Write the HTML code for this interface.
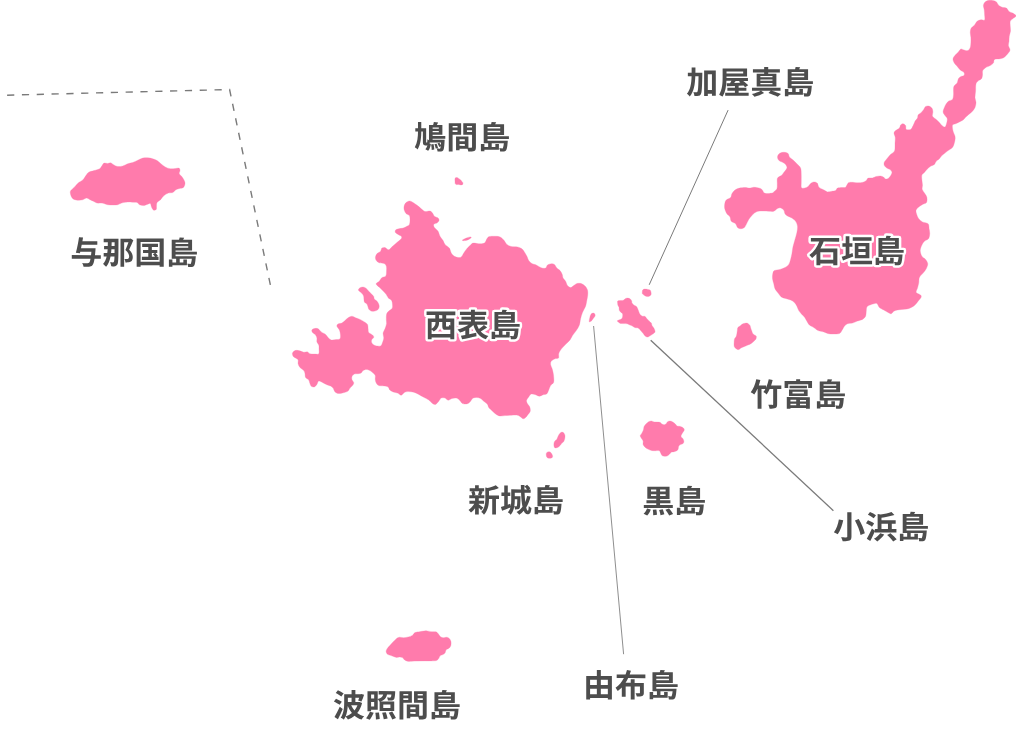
<!DOCTYPE html>
<html lang="ja">
<head>
<meta charset="utf-8">
<title>八重山諸島マップ</title>
<style>
html,body{margin:0;padding:0;background:#fff;}
body{width:1016px;height:730px;overflow:hidden;position:relative;font-family:"Liberation Sans","Noto Sans CJK JP",sans-serif;}
main,figure{display:block;margin:0;padding:0;}
.map{position:relative;width:1016px;height:730px;overflow:hidden;background:#fff;}
svg{position:absolute;left:0;top:0;display:block;will-change:transform;}
.island{fill:#ff7bac;stroke:#ff7bac;stroke-width:0.3;stroke-linejoin:round;}
.lead{stroke:#7a7a7a;fill:none;}
.border{stroke:#7a7a7a;stroke-width:1.4;fill:none;stroke-dasharray:7.2 7.62;}
.label{font-family:"Liberation Sans","Noto Sans CJK JP",sans-serif;font-size:32px;font-weight:700;fill:#4d4d4d;}
.label.halo{stroke:#fff;stroke-width:4.9;stroke-linejoin:round;paint-order:stroke fill;}
</style>
</head>
<body>
<main>
<figure class="map">
<svg width="1016" height="730" viewBox="0 0 1016 730">
<g class="islands">
<path class="island" id="iriomote" d="M386.3 319.8C386.33 318.13 386.18 315.28 386.7 313.75C387.22 312.22 388.5 311.49 389.4 310.6C390.3 309.71 391.58 309.35 392.1 308.4C392.62 307.45 392.58 306.23 392.5 304.9C392.42 303.57 392.27 301.52 391.6 300.4C390.93 299.28 389.38 299.17 388.5 298.2C387.62 297.23 387.12 295.72 386.3 294.6C385.48 293.48 384.72 292.68 383.6 291.5C382.48 290.32 380.85 288.77 379.6 287.5C378.35 286.23 376.17 284.93 376.1 283.9C376.03 282.87 378.25 282.33 379.2 281.3C380.15 280.27 380.7 278.6 381.8 277.7C382.9 276.8 385.02 277.02 385.8 275.9C386.58 274.78 386.42 272.63 386.5 271C386.58 269.37 386.7 267.35 386.3 266.1C385.9 264.85 385.28 264.05 384.1 263.5C382.92 262.95 380.47 263.25 379.2 262.8C377.93 262.35 377.13 261.65 376.5 260.8C375.87 259.95 375.33 258.88 375.4 257.7C375.47 256.52 376.03 254.82 376.9 253.75C377.77 252.68 379.77 252.19 380.6 251.25C381.43 250.31 381.17 248.72 381.9 248.1C382.63 247.47 383.86 247.22 385 247.5C386.14 247.78 387.5 249.96 388.75 249.75C390 249.54 391.14 247.46 392.5 246.25C393.86 245.04 395.44 243.75 396.9 242.5C398.36 241.25 400.52 239.79 401.25 238.75C401.98 237.71 401.77 236.97 401.25 236.25C400.73 235.53 399.08 235.03 398.1 234.4C397.12 233.78 395.82 233.23 395.4 232.5C394.98 231.77 395.04 230.62 395.6 230C396.16 229.38 397.5 229.07 398.75 228.75C400 228.43 401.74 228.52 403.1 228.1C404.46 227.68 405.85 226.87 406.9 226.25C407.95 225.63 408.88 225.44 409.4 224.4C409.92 223.36 410 221.47 410 220C410 218.53 410.02 216.64 409.4 215.6C408.77 214.56 407.08 214.58 406.25 213.75C405.42 212.92 404.77 211.74 404.4 210.6C404.02 209.46 403.8 208.15 404 206.9C404.2 205.65 404.7 204.08 405.6 203.1C406.5 202.12 408.15 201.1 409.4 201C410.65 200.9 411.75 201.73 413.1 202.5C414.45 203.27 416.14 204.56 417.5 205.6C418.86 206.64 420 207.77 421.25 208.75C422.5 209.73 423.54 211.12 425 211.5C426.46 211.88 428.75 210.73 430 211C431.25 211.27 431.77 212.22 432.5 213.1C433.23 213.97 433.47 215.42 434.4 216.25C435.33 217.08 437.33 217.38 438.1 218.1C438.87 218.82 439.2 219.77 439 220.6C438.8 221.43 437.77 222.47 436.9 223.1C436.02 223.73 434.17 223.67 433.75 224.4C433.33 225.13 433.67 226.36 434.4 227.5C435.12 228.64 437.17 229.79 438.1 231.25C439.03 232.71 439.17 234.69 440 236.25C440.83 237.81 442.27 239.24 443.1 240.6C443.93 241.96 443.95 243.15 445 244.4C446.05 245.65 448.36 246.65 449.4 248.1C450.44 249.55 450.42 251.74 451.25 253.1C452.08 254.46 453.26 255.52 454.4 256.25C455.54 256.98 456.96 257.39 458.1 257.5C459.24 257.61 460.31 257.63 461.25 256.9C462.19 256.17 462.92 254.35 463.75 253.1C464.58 251.85 465.21 250.65 466.25 249.4C467.29 248.15 468.86 246.65 470 245.6C471.14 244.55 471.64 243.41 473.1 243.1C474.56 242.79 476.87 243.75 478.75 243.75C480.63 243.75 483.04 243.93 484.4 243.1C485.76 242.27 486.07 239.83 486.9 238.75C487.73 237.67 488.05 237.02 489.4 236.6C490.75 236.18 493.23 236.2 495 236.25C496.77 236.3 498.54 236.28 500 236.9C501.46 237.53 502.6 238.75 503.75 240C504.9 241.25 505.65 243.32 506.9 244.4C508.15 245.48 509.48 246.08 511.25 246.5C513.02 246.92 515.73 246.53 517.5 246.9C519.27 247.28 520.75 247.92 521.9 248.75C523.05 249.58 523.57 250.65 524.4 251.9C525.23 253.15 526.17 254.8 526.9 256.25C527.62 257.7 527.92 259.39 528.75 260.6C529.58 261.81 530.65 262.77 531.9 263.5C533.15 264.23 534.69 264.29 536.25 265C537.81 265.71 539.69 267.23 541.25 267.75C542.81 268.27 544.56 268.56 545.6 268.1C546.64 267.64 546.56 265.73 547.5 265C548.44 264.27 550.1 263.85 551.25 263.75C552.4 263.65 553.46 263.67 554.4 264.4C555.34 265.12 555.97 267.07 556.9 268.1C557.83 269.13 559.11 269.55 560 270.6C560.89 271.65 561.73 273.15 562.25 274.4C562.77 275.65 562.54 276.96 563.1 278.1C563.66 279.24 564.87 280 565.6 281.25C566.33 282.5 566.67 284.56 567.5 285.6C568.33 286.64 569.56 287.5 570.6 287.5C571.64 287.5 572.7 286.27 573.75 285.6C574.8 284.93 575.65 283.85 576.9 283.5C578.15 283.15 579.9 283.08 581.25 283.5C582.6 283.92 583.96 284.92 585 286C586.04 287.08 587.04 288.5 587.5 290C587.96 291.5 587.85 293.33 587.75 295C587.65 296.67 587.26 298.12 586.9 300C586.54 301.88 586.33 304.17 585.6 306.25C584.87 308.33 583.33 310.42 582.5 312.5C581.67 314.58 581.12 316.67 580.6 318.75C580.08 320.83 580.12 323.02 579.4 325C578.67 326.98 577.4 328.83 576.25 330.6C575.1 332.37 573.54 334.03 572.5 335.6C571.46 337.17 571.25 338.43 570 340C568.75 341.57 566.57 343.33 565 345C563.43 346.67 561.64 348.54 560.6 350C559.56 351.46 559.1 352.4 558.75 353.75C558.4 355.1 559.12 357.27 558.5 358.1C557.88 358.93 556.21 358.23 555 358.75C553.79 359.27 551.98 360.31 551.25 361.25C550.52 362.19 550.49 363.26 550.6 364.4C550.71 365.54 551.48 366.75 551.9 368.1C552.32 369.45 552.79 370.93 553.1 372.5C553.41 374.07 553.67 375.83 553.75 377.5C553.83 379.17 554.12 381.15 553.6 382.5C553.08 383.85 551.41 384.35 550.6 385.6C549.79 386.85 549.37 388.64 548.75 390C548.13 391.36 547.84 392.96 546.9 393.75C545.96 394.54 544.35 394.33 543.1 394.75C541.85 395.17 540.65 396.25 539.4 396.25C538.15 396.25 536.96 395.11 535.6 394.75C534.24 394.39 532.39 393.74 531.25 394.1C530.11 394.46 529.54 395.82 528.75 396.9C527.96 397.98 526.71 399.46 526.5 400.6C526.29 401.74 526.96 402.7 527.5 403.75C528.04 404.8 529.29 405.65 529.75 406.9C530.21 408.15 530.52 410 530.25 411.25C529.98 412.5 528.88 413.36 528.1 414.4C527.33 415.44 526.43 416.77 525.6 417.5C524.77 418.23 523.93 418.85 523.1 418.75C522.27 418.65 521.53 417.48 520.6 416.9C519.67 416.32 519.06 415.52 517.5 415.25C515.94 414.98 513.33 415.19 511.25 415.25C509.17 415.31 506.88 415.48 505 415.6C503.12 415.73 501.46 416.2 500 416C498.54 415.8 497.5 415.19 496.25 414.4C495 413.61 493.75 412.4 492.5 411.25C491.25 410.1 489.58 408.64 488.75 407.5C487.92 406.36 488.33 405.44 487.5 404.4C486.67 403.36 484.9 402.23 483.75 401.25C482.6 400.27 481.74 399.12 480.6 398.5C479.46 397.88 478.15 397.57 476.9 397.5C475.65 397.43 474.15 397.48 473.1 398.1C472.05 398.73 471.43 400.35 470.6 401.25C469.77 402.15 469.13 403.04 468.1 403.5C467.07 403.96 465.43 404.07 464.4 404C463.37 403.93 462.73 403.77 461.9 403.1C461.07 402.43 460.34 400.83 459.4 400C458.46 399.17 457.5 398.35 456.25 398.1C455 397.85 453.26 398.14 451.9 398.5C450.54 398.86 449.25 400.32 448.1 400.25C446.95 400.18 446.14 398.46 445 398.1C443.86 397.74 442.29 397.58 441.25 398.1C440.21 398.62 439.69 400.2 438.75 401.25C437.81 402.3 436.64 404.02 435.6 404.4C434.56 404.77 433.64 404.23 432.5 403.5C431.36 402.77 430.21 401.04 428.75 400C427.29 398.96 425.42 398.18 423.75 397.25C422.08 396.32 420.42 395.23 418.75 394.4C417.08 393.57 415.52 392.72 413.75 392.25C411.98 391.78 409.66 391.56 408.1 391.6C406.54 391.64 405.54 391.89 404.4 392.5C403.26 393.11 402.4 395.15 401.25 395.25C400.1 395.35 398.86 393.66 397.5 393.1C396.14 392.54 394.39 392.42 393.1 391.9C391.81 391.38 390.58 390.83 389.75 390C388.92 389.17 389.1 387.58 388.1 386.9C387.1 386.22 385.31 386.12 383.75 385.9C382.19 385.68 380 386.07 378.75 385.6C377.5 385.13 376.83 384.13 376.25 383.1C375.67 382.07 375.42 380.65 375.25 379.4C375.08 378.15 375.61 376.65 375.25 375.6C374.89 374.55 373.98 373.93 373.1 373.1C372.23 372.27 371.14 371.22 370 370.6C368.86 369.98 367.4 369.4 366.25 369.4C365.1 369.4 363.93 370.02 363.1 370.6C362.27 371.18 362.08 372.38 361.25 372.9C360.42 373.42 359.24 373.57 358.1 373.75C356.96 373.93 355.4 373.58 354.4 374C353.4 374.42 352.52 375.35 352.1 376.25C351.68 377.15 351.62 378.32 351.9 379.4C352.17 380.48 353.65 381.72 353.75 382.75C353.85 383.78 353.12 384.71 352.5 385.6C351.88 386.49 350.73 387.2 350 388.1C349.27 389 349.03 390.27 348.1 391C347.17 391.73 345.96 392.08 344.4 392.5C342.84 392.92 340.32 393.6 338.75 393.5C337.18 393.4 335.94 392.8 335 391.9C334.06 391 333.83 389.08 333.1 388.1C332.37 387.12 331.63 386.56 330.6 386C329.57 385.44 328.25 385.33 326.9 384.75C325.55 384.17 323.86 383.12 322.5 382.5C321.14 381.88 319.68 380.68 318.75 381C317.82 381.32 317.62 383.42 316.9 384.4C316.17 385.38 315.34 386.59 314.4 386.9C313.46 387.21 312.02 386.88 311.25 386.25C310.48 385.62 310.17 384.14 309.75 383.1C309.33 382.06 309.44 380.93 308.75 380C308.06 379.07 306.23 378.54 305.6 377.5C304.98 376.46 305.31 374.9 305 373.75C304.69 372.6 304.58 371.64 303.75 370.6C302.92 369.56 300.94 368.64 300 367.5C299.06 366.36 298.42 365 298.1 363.75C297.78 362.5 298.52 360.94 298.1 360C297.68 359.06 296.43 358.73 295.6 358.1C294.77 357.48 293.62 357.08 293.1 356.25C292.58 355.42 292.18 354.04 292.5 353.1C292.82 352.16 293.96 351.02 295 350.6C296.04 350.18 297.29 350.33 298.75 350.6C300.21 350.88 302.29 352.03 303.75 352.25C305.21 352.47 306.46 351.65 307.5 351.9C308.54 352.15 308.75 353.38 310 353.75C311.25 354.12 313.54 354.1 315 354.1C316.46 354.1 318.08 354.64 318.75 353.75C319.42 352.86 319 350.21 319 348.75C319 347.29 319.1 346.14 318.75 345C318.4 343.86 317.21 343.05 316.9 341.9C316.59 340.75 317.12 339.25 316.9 338.1C316.68 336.95 316.33 335.93 315.6 335C314.87 334.07 313.12 333.33 312.5 332.5C311.88 331.67 311.58 330.67 311.9 330C312.22 329.33 313.37 328.71 314.4 328.5C315.43 328.29 316.96 328.18 318.1 328.75C319.24 329.32 320 330.96 321.25 331.9C322.5 332.84 324.46 333.47 325.6 334.4C326.74 335.33 327.16 336.57 328.1 337.5C329.04 338.43 329.89 339.65 331.25 340C332.61 340.35 334.79 339.81 336.25 339.6C337.71 339.39 339.31 339.62 340 338.75C340.69 337.88 340.5 335.86 340.4 334.4C340.3 332.94 339.98 331.36 339.4 330C338.82 328.64 337.12 327.25 336.9 326.25C336.68 325.25 337.27 324.52 338.1 324C338.93 323.48 340.75 323.67 341.9 323.1C343.05 322.53 343.97 321.49 345 320.6C346.03 319.71 346.95 318.48 348.1 317.75C349.25 317.02 350.65 316.25 351.9 316.25C353.15 316.25 354.25 317.23 355.6 317.75C356.95 318.27 358.53 318.71 360 319.4C361.47 320.09 363.15 321.07 364.4 321.9C365.65 322.73 366.88 323.26 367.5 324.4C368.12 325.54 367.89 327.4 368.1 328.75C368.31 330.1 368.02 331.46 368.75 332.5C369.48 333.54 371.67 334.21 372.5 335C373.33 335.79 373.9 336.42 373.75 337.25C373.6 338.08 371.91 339.02 371.6 340C371.29 340.98 371.33 342.17 371.9 343.1C372.47 344.03 373.55 345.13 375 345.6C376.45 346.07 379.35 346.42 380.6 345.9C381.85 345.38 381.98 343.8 382.5 342.5C383.02 341.2 383.65 339.67 383.75 338.1C383.85 336.53 382.89 334.66 383.1 333.1C383.31 331.54 384.43 330.31 385 328.75C385.57 327.19 386.28 325.24 386.5 323.75C386.72 322.26 386.27 321.47 386.3 319.8Z"/>
<path class="island" id="iriomote_islet_w" d="M358.4 289.7C358.47 289.08 359.22 288.25 360 287.8C360.78 287.35 362.05 286.9 363.1 287C364.15 287.1 365.4 287.72 366.3 288.4C367.2 289.08 367.68 290.22 368.5 291.1C369.32 291.98 370.33 292.82 371.2 293.7C372.07 294.58 373.18 295.5 373.7 296.4C374.22 297.3 373.77 298.32 374.3 299.1C374.83 299.88 376.17 300.28 376.9 301.1C377.63 301.92 378.32 303 378.7 304C379.08 305 379.35 306.14 379.2 307.1C379.05 308.06 378.55 309.08 377.8 309.75C377.05 310.42 375.8 310.88 374.7 311.1C373.6 311.33 372.17 311.4 371.2 311.1C370.23 310.8 369.47 310.12 368.9 309.3C368.33 308.48 368.17 307.12 367.8 306.2C367.43 305.28 367.25 304.47 366.7 303.8C366.15 303.13 364.97 302.98 364.5 302.2C364.03 301.42 364.05 300.13 363.9 299.1C363.75 298.07 363.95 296.97 363.6 296C363.25 295.03 362.47 294.05 361.8 293.3C361.13 292.55 360.17 292.1 359.6 291.5C359.03 290.9 358.33 290.32 358.4 289.7Z"/>
<path class="island" id="iriomote_islet_n" d="M462.25 240.25C462.46 239.83 464.96 238.66 466.25 238.1C467.54 237.54 469.17 237 470 236.9C470.83 236.8 471.46 237.08 471.25 237.5C471.04 237.92 469.79 238.88 468.75 239.4C467.71 239.92 466.08 240.46 465 240.6C463.92 240.74 462.04 240.67 462.25 240.25Z"/>
<path class="island" id="ishigaki" d="M773.75 191.9C774.58 191.18 776.32 190.11 776.9 188.75C777.48 187.39 777.15 185.53 777.25 183.75C777.35 181.97 776.83 179.46 777.5 178.1C778.17 176.74 780.21 176.53 781.25 175.6C782.29 174.67 782.81 173.75 783.75 172.5C784.69 171.25 786.59 169.45 786.9 168.1C787.21 166.75 786.33 165.38 785.6 164.4C784.87 163.43 783.6 162.88 782.5 162.25C781.4 161.62 779.83 161.49 779 160.6C778.17 159.71 777.43 158.08 777.5 156.9C777.57 155.72 778.36 154.28 779.4 153.5C780.44 152.72 782.3 152.25 783.75 152.25C785.2 152.25 787.16 152.72 788.1 153.5C789.04 154.28 788.57 155.82 789.4 156.9C790.23 157.98 791.85 158.86 793.1 160C794.35 161.14 795.65 162.4 796.9 163.75C798.15 165.1 799.88 166.22 800.6 168.1C801.33 169.97 801.14 172.6 801.25 175C801.36 177.4 801.21 180.38 801.25 182.5C801.29 184.62 800.88 186.85 801.5 187.75C802.12 188.65 803.9 188.11 805 187.9C806.1 187.69 807.17 187.23 808.1 186.5C809.03 185.77 809.66 184.27 810.6 183.5C811.54 182.73 812.64 181.97 813.75 181.9C814.86 181.83 816.42 182.27 817.25 183.1C818.08 183.93 817.98 185.92 818.75 186.9C819.52 187.88 820.86 188.38 821.9 189C822.94 189.62 824.07 190.12 825 190.6C825.93 191.08 826.35 191.79 827.5 191.9C828.65 192.01 830.55 191.47 831.9 191.25C833.25 191.03 834.67 191.12 835.6 190.6C836.53 190.07 836.45 188.62 837.5 188.1C838.55 187.58 840.55 187.64 841.9 187.5C843.25 187.36 844.57 187.98 845.6 187.25C846.63 186.52 847.16 183.93 848.1 183.1C849.04 182.27 849.68 182.31 851.25 182.25C852.82 182.19 855.52 182.75 857.5 182.75C859.48 182.75 861.64 182.61 863.1 182.25C864.56 181.89 865.42 181.29 866.25 180.6C867.08 179.91 867.06 178.55 868.1 178.1C869.14 177.65 871.14 178.17 872.5 177.9C873.86 177.63 874.9 176.82 876.25 176.5C877.6 176.18 879.35 175.88 880.6 176C881.85 176.12 882.92 176.75 883.75 177.25C884.58 177.75 884.77 178.86 885.6 179C886.43 179.14 887.7 179.08 888.75 178.1C889.8 177.12 891.59 174.45 891.9 173.1C892.21 171.75 891.43 170.83 890.6 170C889.77 169.17 887.93 168.83 886.9 168.1C885.87 167.37 884.85 166.53 884.4 165.6C883.95 164.67 883.78 163.64 884.2 162.5C884.62 161.36 885.93 160 886.9 158.75C887.87 157.5 888.75 156.25 890 155C891.25 153.75 893.57 152.71 894.4 151.25C895.23 149.79 894.9 147.5 895 146.25C895.1 145 894.96 145.21 895 143.75C895.04 142.29 895.42 139.28 895.25 137.5C895.08 135.72 893.94 134.25 894 133.1C894.06 131.95 894.7 131.43 895.6 130.6C896.5 129.77 898.57 129.03 899.4 128.1C900.23 127.17 899.98 125.72 900.6 125C901.22 124.28 902.27 123.65 903.1 123.75C903.93 123.85 905.08 124.66 905.6 125.6C906.12 126.54 905.42 128.77 906.25 129.4C907.08 130.03 909.46 130.03 910.6 129.4C911.74 128.77 912.37 126.96 913.1 125.6C913.83 124.24 914.27 122.5 915 121.25C915.73 120 916.98 119.14 917.5 118.1C918.02 117.06 917.48 115.93 918.1 115C918.73 114.07 920.31 113.43 921.25 112.5C922.19 111.57 923.02 110.4 923.75 109.4C924.48 108.4 924.77 107.07 925.6 106.5C926.43 105.93 927.7 105.73 928.75 106C929.8 106.27 931.21 107.12 931.9 108.1C932.59 109.08 932.8 110.54 932.9 111.9C933 113.26 931.94 115 932.5 116.25C933.06 117.5 935.1 118.36 936.25 119.4C937.4 120.44 938.36 121.4 939.4 122.5C940.44 123.6 941.57 125.27 942.5 126C943.43 126.73 944.33 127.28 945 126.9C945.67 126.53 946.12 125.11 946.5 123.75C946.88 122.39 947.5 120.11 947.25 118.75C947 117.39 945.69 116.74 945 115.6C944.31 114.46 943.2 113.25 943.1 111.9C943 110.55 943.88 108.86 944.4 107.5C944.92 106.14 945.52 104.83 946.25 103.75C946.98 102.67 947.71 101.72 948.75 101C949.79 100.28 951.71 100.4 952.5 99.4C953.29 98.4 953.33 96.57 953.5 95C953.67 93.43 953.42 91.46 953.5 90C953.58 88.54 953.4 87.4 954 86.25C954.6 85.1 956.37 84.35 957.1 83.1C957.83 81.85 957.77 79.85 958.4 78.75C959.03 77.65 959.97 77.03 960.9 76.5C961.83 75.97 963.48 76.27 964 75.6C964.52 74.93 964.62 73.43 964 72.5C963.38 71.57 961.4 71.04 960.25 70C959.1 68.96 958.14 67.5 957.1 66.25C956.06 65 954.68 63.75 954 62.5C953.32 61.25 952.79 60 953 58.75C953.21 57.5 954.35 56.14 955.25 55C956.15 53.86 957.46 52.9 958.4 51.9C959.34 50.9 959.97 49.32 960.9 49C961.83 48.68 962.86 49.73 964 50C965.14 50.27 966.71 51.02 967.75 50.6C968.79 50.18 969.73 48.85 970.25 47.5C970.77 46.15 970.79 44.17 970.9 42.5C971.01 40.83 971.01 39.17 970.9 37.5C970.79 35.83 970.19 34.07 970.25 32.5C970.31 30.93 970.52 29.35 971.25 28.1C971.98 26.85 973.62 26.14 974.6 25C975.58 23.86 976.05 22.12 977.1 21.25C978.15 20.38 979.65 19.96 980.9 19.75C982.15 19.54 983.98 20.79 984.6 20C985.22 19.21 984.66 16.67 984.6 15C984.54 13.33 984.45 11.57 984.25 10C984.05 8.43 983.34 6.85 983.4 5.6C983.46 4.35 983.88 3.33 984.6 2.5C985.33 1.67 986.39 0.95 987.75 0.6C989.11 0.25 991.29 0.18 992.75 0.4C994.21 0.62 995.56 1.13 996.5 1.9C997.44 2.67 997.47 4.11 998.4 5C999.33 5.89 1000.75 6.73 1002.1 7.25C1003.45 7.77 1005.35 7.39 1006.5 8.1C1007.65 8.81 1007.96 10.67 1009 11.5C1010.04 12.33 1011.67 12.52 1012.75 13.1C1013.83 13.68 1014.96 14.47 1015.5 15C1016.04 15.53 1016.46 15.62 1016 16.25C1015.54 16.88 1013.71 17.92 1012.75 18.75C1011.79 19.58 1010.67 20 1010.25 21.25C1009.83 22.5 1010.21 24.58 1010.25 26.25C1010.29 27.92 1010.67 29.58 1010.5 31.25C1010.33 32.92 1009.5 34.58 1009.25 36.25C1009 37.92 1009.14 39.69 1009 41.25C1008.86 42.81 1008.23 44.14 1008.4 45.6C1008.57 47.06 1010.11 48.64 1010 50C1009.89 51.36 1008.75 52.5 1007.75 53.75C1006.75 55 1005.25 56.67 1004 57.5C1002.75 58.33 1001.82 58.43 1000.25 58.75C998.68 59.07 995.74 58.67 994.6 59.4C993.46 60.12 994.12 62.07 993.4 63.1C992.67 64.13 991.5 64.87 990.25 65.6C989 66.33 987.15 66.67 985.9 67.5C984.65 68.33 983.32 69.35 982.75 70.6C982.18 71.85 982.71 73.64 982.5 75C982.29 76.36 982.29 77.71 981.5 78.75C980.71 79.79 978.68 80.31 977.75 81.25C976.82 82.19 976.26 82.73 975.9 84.4C975.54 86.07 975.75 89.07 975.6 91.25C975.45 93.43 974.93 95.62 975 97.5C975.07 99.38 976 100.83 976 102.5C976 104.17 975.58 106.04 975 107.5C974.42 108.96 973.54 110.1 972.5 111.25C971.46 112.4 969.9 113.4 968.75 114.4C967.6 115.4 966.54 116.32 965.6 117.25C964.66 118.18 964.13 119.22 963.1 120C962.07 120.78 960.65 121.28 959.4 121.9C958.15 122.53 956.75 123.19 955.6 123.75C954.45 124.31 952.92 124 952.5 125.25C952.08 126.5 952.68 129.42 953.1 131.25C953.52 133.08 954.68 134.79 955 136.25C955.32 137.71 955.21 138.54 955 140C954.79 141.46 954.27 143.65 953.75 145C953.23 146.35 952.84 147.17 951.9 148.1C950.96 149.03 949.25 149.77 948.1 150.6C946.95 151.43 946.03 152.27 945 153.1C943.97 153.93 942.83 154.66 941.9 155.6C940.97 156.54 940.34 157.81 939.4 158.75C938.46 159.69 937.08 160.31 936.25 161.25C935.42 162.19 935.34 163.57 934.4 164.4C933.46 165.23 931.85 165.42 930.6 166.25C929.35 167.08 927.93 168.36 926.9 169.4C925.87 170.44 925.23 171.57 924.4 172.5C923.57 173.43 922.32 173.75 921.9 175C921.48 176.25 921.8 178.33 921.9 180C922 181.67 922.44 183.43 922.5 185C922.56 186.57 921.83 187.94 922.25 189.4C922.67 190.86 924.23 192.4 925 193.75C925.77 195.1 926.65 196.04 926.9 197.5C927.15 198.96 927.23 201.35 926.5 202.5C925.77 203.65 923.9 203.57 922.5 204.4C921.1 205.23 919.18 206.47 918.1 207.5C917.02 208.53 916.2 209.35 916 210.6C915.8 211.85 916.44 213.64 916.9 215C917.36 216.36 917.82 217.6 918.75 218.75C919.68 219.9 920.94 221.07 922.5 221.9C924.06 222.73 927 222.61 928.1 223.75C929.2 224.89 928.83 227.08 929.1 228.75C929.38 230.42 929.85 232.08 929.75 233.75C929.65 235.42 929.39 237.5 928.5 238.75C927.61 240 925.5 240.21 924.4 241.25C923.3 242.29 922.59 243.44 921.9 245C921.21 246.56 920.25 248.72 920.25 250.6C920.25 252.47 921.01 254.78 921.9 256.25C922.79 257.72 924.62 258.15 925.6 259.4C926.58 260.65 927.64 262.19 927.75 263.75C927.86 265.31 927.02 267.19 926.25 268.75C925.48 270.31 924.24 271.64 923.1 273.1C921.96 274.56 920.12 275.83 919.4 277.5C918.67 279.17 919.07 281.33 918.75 283.1C918.43 284.87 917.92 286.53 917.5 288.1C917.08 289.67 915.73 291.35 916.25 292.5C916.77 293.65 919.81 294.17 920.6 295C921.39 295.83 921.42 296.46 921 297.5C920.58 298.54 919.1 300 918.1 301.25C917.1 302.5 916.14 303.96 915 305C913.86 306.04 912.6 306.83 911.25 307.5C909.9 308.17 908.46 308.68 906.9 309C905.34 309.32 903.47 309.23 901.9 309.4C900.33 309.57 898.86 309.69 897.5 310C896.14 310.31 894.79 310.62 893.75 311.25C892.71 311.88 892.19 313.54 891.25 313.75C890.31 313.96 889.35 313.12 888.1 312.5C886.85 311.88 885.2 310.83 883.75 310C882.3 309.17 880.54 308.58 879.4 307.5C878.26 306.42 877.84 304.12 876.9 303.5C875.96 302.88 874.9 303.5 873.75 303.75C872.6 304 871.14 304.48 870 305C868.86 305.52 867.52 305.86 866.9 306.9C866.27 307.94 866.47 309.69 866.25 311.25C866.03 312.81 866.23 314.89 865.6 316.25C864.98 317.61 863.85 318.61 862.5 319.4C861.15 320.19 859.17 320.38 857.5 321C855.83 321.62 854.17 322.64 852.5 323.1C850.83 323.56 848.85 323.23 847.5 323.75C846.15 324.27 845.33 325.11 844.4 326.25C843.47 327.39 842.73 329.39 841.9 330.6C841.07 331.81 840.76 332.93 839.4 333.5C838.04 334.07 835.52 333.96 833.75 334C831.98 334.04 830.42 334.1 828.75 333.75C827.08 333.4 825.52 332.42 823.75 331.9C821.98 331.38 819.77 331.33 818.1 330.6C816.43 329.87 815.2 328.43 813.75 327.5C812.3 326.57 810.54 326.04 809.4 325C808.26 323.96 807.67 322.5 806.9 321.25C806.12 320 805.69 318.75 804.75 317.5C803.81 316.25 802.25 314.9 801.25 313.75C800.25 312.6 799.48 311.85 798.75 310.6C798.02 309.35 797.62 307.6 796.9 306.25C796.17 304.9 795.45 303.54 794.4 302.5C793.35 301.46 792.07 300.67 790.6 300C789.13 299.33 787.16 299.02 785.6 298.5C784.04 297.98 782.5 297.8 781.25 296.9C780 296 779.14 294.46 778.1 293.1C777.06 291.74 775.73 290.31 775 288.75C774.27 287.19 774.17 285.42 773.75 283.75C773.33 282.08 772.67 280.42 772.5 278.75C772.33 277.08 772.43 275.11 772.75 273.75C773.07 272.39 773.19 271.33 774.4 270.6C775.61 269.88 778.23 269.92 780 269.4C781.77 268.88 783.54 268.33 785 267.5C786.46 266.67 787.82 265.75 788.75 264.4C789.68 263.05 790.08 261.17 790.6 259.4C791.12 257.62 791.48 255.94 791.9 253.75C792.32 251.56 792.58 248.64 793.1 246.25C793.62 243.86 794.37 241.69 795 239.4C795.63 237.11 796.48 234.69 796.9 232.5C797.32 230.31 797.72 228.12 797.5 226.25C797.28 224.38 796.53 222.61 795.6 221.25C794.67 219.89 793.25 218.97 791.9 218.1C790.55 217.22 788.65 216.72 787.5 216C786.35 215.28 785.62 214.75 785 213.75C784.38 212.75 784.48 210.97 783.75 210C783.02 209.03 781.64 208.15 780.6 207.9C779.56 207.65 778.64 207.94 777.5 208.5C776.36 209.06 775.21 210.79 773.75 211.25C772.29 211.71 770.42 211.29 768.75 211.25C767.08 211.21 765.52 211 763.75 211C761.98 211 759.66 210.9 758.1 211.25C756.54 211.6 755.54 212.27 754.4 213.1C753.26 213.93 752.19 215.2 751.25 216.25C750.31 217.3 749.48 218.26 748.75 219.4C748.02 220.54 747.62 221.75 746.9 223.1C746.17 224.45 745.45 226.56 744.4 227.5C743.35 228.44 741.75 228.75 740.6 228.75C739.45 228.75 738.33 228.33 737.5 227.5C736.67 226.67 736.64 224.79 735.6 223.75C734.56 222.71 732.18 222.39 731.25 221.25C730.32 220.11 730.73 218.15 730 216.9C729.27 215.65 727.77 215.11 726.9 213.75C726.02 212.39 725.11 210.42 724.75 208.75C724.39 207.08 724.5 205.21 724.75 203.75C725 202.29 725.27 201.04 726.25 200C727.23 198.96 729.66 198.54 730.6 197.5C731.54 196.46 731.17 195 731.9 193.75C732.63 192.5 733.75 190.94 735 190C736.25 189.06 737.73 188.52 739.4 188.1C741.07 187.68 743.33 187.5 745 187.5C746.67 187.5 747.94 188.14 749.4 188.1C750.86 188.06 752.19 187.28 753.75 187.25C755.31 187.22 757.39 187.54 758.75 187.9C760.11 188.26 760.96 188.53 761.9 189.4C762.84 190.27 763.37 192.42 764.4 193.1C765.43 193.78 766.85 193.5 768.1 193.5C769.35 193.5 770.96 193.37 771.9 193.1C772.84 192.83 772.92 192.62 773.75 191.9Z"/>
<path class="island" id="yonaguni" d="M70.25 192.5C70.21 191.35 70.53 190.93 71.25 190C71.97 189.07 73.41 188.11 74.6 186.9C75.79 185.69 77.04 183.9 78.4 182.75C79.76 181.6 81.5 181.19 82.75 180C84 178.81 84.96 176.85 85.9 175.6C86.84 174.35 87.05 173.33 88.4 172.5C89.75 171.67 92.13 171.22 94 170.6C95.87 169.97 98.25 169.58 99.6 168.75C100.95 167.92 101.37 166.54 102.1 165.6C102.83 164.66 103.06 163.45 104 163.1C104.94 162.75 106.6 163.53 107.75 163.5C108.9 163.47 109.86 162.65 110.9 162.9C111.94 163.15 112.86 164.4 114 165C115.14 165.6 116.29 166.33 117.75 166.5C119.21 166.67 121.08 166.46 122.75 166C124.42 165.54 126.08 164.33 127.75 163.75C129.42 163.17 131.08 163.08 132.75 162.5C134.42 161.92 136.08 160.98 137.75 160.25C139.42 159.52 141.08 158.52 142.75 158.1C144.42 157.68 146.08 157.64 147.75 157.75C149.42 157.86 151.19 158.28 152.75 158.75C154.31 159.22 155.74 159.77 157.1 160.6C158.46 161.43 159.54 162.7 160.9 163.75C162.26 164.8 163.69 166.07 165.25 166.9C166.81 167.73 168.58 168.48 170.25 168.75C171.92 169.02 173.79 168.61 175.25 168.5C176.71 168.39 178.21 167.75 179 168.1C179.79 168.45 179.96 169.66 180 170.6C180.04 171.54 178.9 172.7 179.25 173.75C179.6 174.8 181.27 175.76 182.1 176.9C182.93 178.04 183.77 179.46 184.25 180.6C184.73 181.74 185.14 182.6 185 183.75C184.86 184.9 184.3 186.71 183.4 187.5C182.5 188.29 180.85 188.12 179.6 188.5C178.35 188.88 177.04 189.08 175.9 189.75C174.76 190.42 174 191.94 172.75 192.5C171.5 193.06 169.86 192.58 168.4 193.1C166.94 193.62 165.25 194.55 164 195.6C162.75 196.65 162.05 198.25 160.9 199.4C159.75 200.55 157.83 201.36 157.1 202.5C156.37 203.64 156.64 205.1 156.5 206.25C156.36 207.4 156.77 208.78 156.25 209.4C155.73 210.03 154.19 210.42 153.4 210C152.61 209.58 152.03 207.98 151.5 206.9C150.97 205.82 150.98 203.92 150.25 203.5C149.52 203.08 148.24 204.05 147.1 204.4C145.96 204.75 144.65 205.54 143.4 205.6C142.15 205.66 140.65 205.27 139.6 204.75C138.55 204.23 138.03 202.92 137.1 202.5C136.17 202.08 135.14 202.35 134 202.25C132.86 202.15 131.71 201.9 130.25 201.9C128.79 201.9 126.71 202.05 125.25 202.25C123.79 202.45 122.75 202.68 121.5 203.1C120.25 203.52 119.21 204.43 117.75 204.75C116.29 205.07 114.42 205 112.75 205C111.08 205 109.21 205 107.75 204.75C106.29 204.5 105.25 203.78 104 203.5C102.75 203.22 101.4 203.17 100.25 203.1C99.1 203.03 98.24 203.41 97.1 203.1C95.96 202.79 94.65 201.87 93.4 201.25C92.15 200.63 90.75 199.93 89.6 199.4C88.45 198.88 87.64 198.04 86.5 198.1C85.36 198.16 84.1 199.39 82.75 199.75C81.4 200.11 79.86 200.31 78.4 200.25C76.94 200.19 75.15 199.96 74 199.4C72.85 198.84 72.12 198.05 71.5 196.9C70.88 195.75 70.29 193.65 70.25 192.5Z"/>
<path class="island" id="hateruma" d="M386.1 651.5C386.03 650.57 386.48 649.68 387.1 648.7C387.72 647.72 388.82 646.72 389.8 645.6C390.78 644.48 391.95 643.12 393 642C394.05 640.88 395.05 639.7 396.1 638.9C397.15 638.1 398.05 637.4 399.3 637.2C400.55 637 402.1 637.75 403.6 637.7C405.1 637.65 406.85 637.28 408.3 636.9C409.75 636.52 411.18 636.12 412.3 635.4C413.42 634.68 413.82 633.22 415 632.6C416.18 631.98 417.88 631.97 419.4 631.7C420.92 631.43 422.8 631.13 424.1 631C425.4 630.87 425.88 630.78 427.2 630.9C428.52 631.02 430.55 631.55 432 631.7C433.45 631.85 434.85 631.45 435.9 631.8C436.95 632.15 437.58 633.03 438.3 633.8C439.02 634.57 439.42 635.75 440.2 636.4C440.98 637.05 441.88 637.57 443 637.7C444.12 637.83 445.85 637.07 446.9 637.2C447.95 637.33 448.63 637.82 449.3 638.5C449.97 639.18 450.63 640.18 450.9 641.3C451.17 642.42 451.17 644.08 450.9 645.2C450.63 646.32 450.1 647.22 449.3 648C448.5 648.78 446.82 649.05 446.1 649.9C445.38 650.75 445.52 652.32 445 653.1C444.48 653.88 443.8 654.15 443 654.6C442.2 655.05 440.92 655.13 440.2 655.8C439.48 656.47 439.35 657.8 438.7 658.6C438.05 659.4 437.55 660.22 436.3 660.6C435.05 660.98 433.23 660.85 431.2 660.9C429.17 660.95 426.47 660.87 424.1 660.9C421.73 660.93 419.1 661.03 417 661.1C414.9 661.17 413.07 661.27 411.5 661.3C409.93 661.33 408.78 661.55 407.6 661.3C406.42 661.05 405.27 660.42 404.4 659.8C403.53 659.18 403.18 658.08 402.4 657.6C401.62 657.12 400.68 656.93 399.7 656.9C398.72 656.87 397.55 657.48 396.5 657.4C395.45 657.32 394.45 656.75 393.4 656.4C392.35 656.05 391.18 655.65 390.2 655.3C389.22 654.95 388.18 654.93 387.5 654.3C386.82 653.67 386.17 652.43 386.1 651.5Z"/>
<path class="island" id="hatoma" d="M455.1 178.2C455.42 177.62 456.32 177.57 456.9 177.6C457.48 177.63 457.97 178.02 458.6 178.4C459.23 178.78 460.15 179.38 460.7 179.9C461.25 180.42 461.53 181.02 461.9 181.5C462.27 181.98 462.77 182.32 462.9 182.8C463.03 183.28 463.07 184.05 462.7 184.4C462.33 184.75 461.38 184.9 460.7 184.9C460.02 184.9 459.3 184.45 458.6 184.4C457.9 184.35 457.07 184.73 456.5 184.6C455.93 184.47 455.45 184.18 455.2 183.6C454.95 183.02 455.02 182 455 181.1C454.98 180.2 454.78 178.78 455.1 178.2Z"/>
<path class="island" id="kohama" d="M617.7 301C618.15 300.57 619.35 300.62 620.3 300.5C621.25 300.38 622.53 300.62 623.4 300.3C624.27 299.98 624.8 298.97 625.5 298.6C626.2 298.23 626.8 298.03 627.6 298.1C628.4 298.17 629.62 298.52 630.3 299C630.98 299.48 631.42 300.32 631.7 301C631.98 301.68 631.6 302.4 632 303.1C632.4 303.8 633.35 304.63 634.1 305.2C634.85 305.77 635.87 305.82 636.5 306.5C637.13 307.18 637.5 308.38 637.9 309.3C638.3 310.22 638.5 311.08 638.9 312C639.3 312.92 639.72 314.1 640.3 314.8C640.88 315.5 641.65 315.95 642.4 316.2C643.15 316.45 644.12 315.97 644.8 316.3C645.48 316.63 645.82 317.47 646.5 318.2C647.18 318.93 648.1 319.88 648.9 320.7C649.7 321.52 650.78 322.3 651.3 323.1C651.82 323.9 651.58 324.7 652 325.5C652.42 326.3 653.28 326.93 653.8 327.9C654.32 328.87 655.05 330.43 655.1 331.3C655.15 332.17 654.73 332.47 654.1 333.1C653.47 333.73 652.17 334.53 651.3 335.1C650.43 335.67 649.58 336.17 648.9 336.5C648.22 336.83 647.83 337.18 647.2 337.1C646.57 337.02 645.73 336.55 645.1 336C644.47 335.45 644.03 334.58 643.4 333.8C642.77 333.02 641.93 332.05 641.3 331.3C640.67 330.55 640.17 329.87 639.6 329.3C639.03 328.73 638.7 328.18 637.9 327.9C637.1 327.62 635.78 327.95 634.8 327.6C633.82 327.25 632.92 326.27 632 325.8C631.08 325.33 630.1 325.13 629.3 324.8C628.5 324.47 628.12 324 627.2 323.8C626.28 323.6 624.95 323.67 623.8 323.6C622.65 323.53 621.22 323.67 620.3 323.4C619.38 323.13 618.82 322.42 618.3 322C617.78 321.58 617.2 321.2 617.2 320.9C617.2 320.6 617.78 320.42 618.3 320.2C618.82 319.98 619.67 319.93 620.3 319.6C620.93 319.27 621.7 318.83 622.1 318.2C622.5 317.57 622.65 316.6 622.7 315.8C622.75 315 622.68 313.97 622.4 313.4C622.12 312.83 621.52 312.92 621 312.4C620.48 311.88 619.63 311.17 619.3 310.3C618.97 309.43 619.23 308.05 619 307.2C618.77 306.35 618.13 305.88 617.9 305.2C617.67 304.52 617.63 303.8 617.6 303.1C617.57 302.4 617.25 301.43 617.7 301Z"/>
<path class="island" id="kayama" d="M642.3 291.9C642.37 291.35 642.33 290.57 642.7 290.1C643.07 289.63 643.65 289.22 644.5 289.1C645.35 288.98 646.87 289.23 647.8 289.4C648.73 289.57 649.57 289.63 650.1 290.1C650.63 290.57 650.83 291.45 651 292.2C651.17 292.95 651.3 293.98 651.1 294.6C650.9 295.22 650.45 295.57 649.8 295.9C649.15 296.23 648.03 296.63 647.2 296.6C646.37 296.57 645.45 296.03 644.8 295.7C644.15 295.37 643.72 294.98 643.3 294.6C642.88 294.22 642.47 293.85 642.3 293.4C642.13 292.95 642.23 292.45 642.3 291.9Z"/>
<path class="island" id="yubu" d="M589.2 321.6C589.1 320.95 589.5 318.93 589.8 317.7C590.1 316.47 590.42 314.97 591 314.2C591.58 313.43 592.67 313.15 593.3 313.1C593.93 313.05 594.5 313.43 594.8 313.9C595.1 314.37 595.3 315.22 595.1 315.9C594.9 316.58 594.13 317.25 593.6 318C593.07 318.75 592.43 319.8 591.9 320.4C591.37 321 590.85 321.4 590.4 321.6C589.95 321.8 589.3 322.25 589.2 321.6Z"/>
<path class="island" id="taketomi" d="M734.1 345.8C733.98 344.95 734.03 343.55 734.1 342.4C734.17 341.25 734.15 339.88 734.5 338.9C734.85 337.92 735.8 337.42 736.2 336.5C736.6 335.58 736.7 334.48 736.9 333.4C737.1 332.32 737.23 330.97 737.4 330C737.57 329.03 737.42 328.3 737.9 327.6C738.38 326.9 739.55 326.38 740.3 325.8C741.05 325.22 741.6 324.53 742.4 324.1C743.2 323.67 744.18 323.32 745.1 323.2C746.02 323.08 747.08 323.02 747.9 323.4C748.72 323.78 749.53 324.75 750 325.5C750.47 326.25 750.42 327.03 750.7 327.9C750.98 328.77 751.37 329.78 751.7 330.7C752.03 331.62 752.25 332.7 752.7 333.4C753.15 334.1 753.82 334.47 754.4 334.9C754.98 335.33 755.93 335.33 756.2 336C756.47 336.67 756.35 338.07 756 338.9C755.65 339.73 754.88 340.25 754.1 341C753.32 341.75 752.33 342.72 751.3 343.4C750.27 344.08 749.03 344.58 747.9 345.1C746.77 345.62 745.65 346.03 744.5 346.5C743.35 346.97 741.98 347.38 741 347.9C740.02 348.42 739.35 349.43 738.6 349.6C737.85 349.77 737.13 349.25 736.5 348.9C735.87 348.55 735.2 348.02 734.8 347.5C734.4 346.98 734.22 346.65 734.1 345.8Z"/>
<path class="island" id="kuroshima" d="M640.2 435.8C640.25 435 641.17 434.37 641.7 433.4C642.23 432.43 643 431.15 643.4 430C643.8 428.85 643.63 427.53 644.1 426.5C644.57 425.47 645.45 424.6 646.2 423.8C646.95 423 647.73 422.17 648.6 421.7C649.47 421.23 650.48 420.97 651.4 421C652.32 421.03 653.07 421.72 654.1 421.9C655.13 422.08 656.57 422 657.6 422.1C658.63 422.2 659.57 422.17 660.3 422.5C661.03 422.83 661.37 423.72 662 424.1C662.63 424.48 663.47 424.8 664.1 424.8C664.73 424.8 665.22 424.62 665.8 424.1C666.38 423.58 666.9 422.22 667.6 421.7C668.3 421.18 669.15 420.97 670 421C670.85 421.03 671.85 421.43 672.7 421.9C673.55 422.37 674.35 423.12 675.1 423.8C675.85 424.48 676.33 425.57 677.2 426C678.07 426.43 679.32 426.1 680.3 426.4C681.28 426.7 682.43 427.2 683.1 427.8C683.77 428.4 684.37 429.18 684.3 430C684.23 430.82 683.25 431.67 682.7 432.7C682.15 433.73 680.93 435.17 681 436.2C681.07 437.23 682.62 437.98 683.1 438.9C683.58 439.82 683.97 440.88 683.9 441.7C683.83 442.52 683.35 443.28 682.7 443.8C682.05 444.32 680.68 444.35 680 444.8C679.32 445.25 678.9 445.82 678.6 446.5C678.3 447.18 678.48 448.2 678.2 448.9C677.92 449.6 677.58 450.23 676.9 450.7C676.22 451.17 675.03 451.45 674.1 451.7C673.17 451.95 672.05 451.8 671.3 452.2C670.55 452.6 670.23 453.5 669.6 454.1C668.97 454.7 668.35 455.43 667.5 455.8C666.65 456.17 665.42 456.35 664.5 456.3C663.58 456.25 662.63 456.03 662 455.5C661.37 454.97 661.15 453.9 660.7 453.1C660.25 452.3 660.17 451.1 659.3 450.7C658.43 450.3 656.82 450.73 655.5 450.7C654.18 450.67 652.67 450.77 651.4 450.5C650.13 450.23 649 449.7 647.9 449.1C646.8 448.5 645.6 447.67 644.8 446.9C644 446.13 643.38 445.48 643.1 444.5C642.82 443.52 643.38 442.05 643.1 441C642.82 439.95 641.88 439.07 641.4 438.2C640.92 437.33 640.15 436.6 640.2 435.8Z"/>
<path class="island" id="aragusuku_n" d="M554.3 447.2C554 446.57 553.85 445.07 553.9 444.1C553.95 443.13 554.08 442.27 554.6 441.4C555.12 440.53 556.42 439.77 557 438.9C557.58 438.03 557.63 437.12 558.1 436.2C558.57 435.28 559.17 434.08 559.8 433.4C560.43 432.72 561.22 432.15 561.9 432.1C562.58 432.05 563.38 432.48 563.9 433.1C564.42 433.72 564.88 434.77 565 435.8C565.12 436.83 564.83 438.32 564.6 439.3C564.37 440.28 564.05 441.07 563.6 441.7C563.15 442.33 562.42 442.53 561.9 443.1C561.38 443.67 561.13 444.42 560.5 445.1C559.87 445.78 558.9 446.73 558.1 447.2C557.3 447.67 556.33 447.9 555.7 447.9C555.07 447.9 554.6 447.83 554.3 447.2Z"/>
<path class="island" id="aragusuku_s" d="M546.2 454.4C546.2 453.6 546.42 452.85 546.9 452.4C547.38 451.95 548.42 451.65 549.1 451.7C549.78 451.75 550.48 452.18 551 452.7C551.52 453.22 551.93 454.1 552.2 454.8C552.47 455.5 552.77 456.35 552.6 456.9C552.43 457.45 551.83 457.88 551.2 458.1C550.57 458.32 549.52 458.35 548.8 458.2C548.08 458.05 547.33 457.83 546.9 457.2C546.47 456.57 546.2 455.2 546.2 454.4Z"/>
</g>
<g class="lines">
<polyline class="border" points="7.1,95.2 229.6,89.5 270.8,287"/>
<line class="lead" x1="728.1" y1="110.1" x2="649.2" y2="284.8" stroke-width="1"/>
<line class="lead" x1="593.6" y1="326" x2="623.6" y2="654.2" stroke-width="0.85"/>
<line class="lead" x1="650.7" y1="340.3" x2="833.4" y2="510.7" stroke-width="1.3"/>
</g>
<g class="labels">
<text class="label" transform="matrix(1 0.0005 0 0.985 70.3 264.08)">与那国島</text>
<text class="label" transform="matrix(1 0.0005 0 0.985 414.3 148.73)">鳩間島</text>
<text class="label" transform="matrix(1 0.0005 0 0.985 686.2 93.73)">加屋真島</text>
<text class="label halo" transform="matrix(1 0.0005 0 0.985 425 336.58)">西表島</text>
<text class="label halo" transform="matrix(1 0.0005 0 0.985 808.9 262.38)">石垣島</text>
<text class="label" transform="matrix(1 0.0005 0 0.985 750.3 405.88)">竹富島</text>
<text class="label" transform="matrix(1 0.0005 0 0.985 468.1 511.63)">新城島</text>
<text class="label" transform="matrix(1 0.0005 0 0.985 642.2 512.53)">黒島</text>
<text class="label" transform="matrix(1 0.0005 0 0.985 833.15 538.53)">小浜島</text>
<text class="label" transform="matrix(1 0.0005 0 0.985 583.1 696.63)">由布島</text>
<text class="label" transform="matrix(1 0.0005 0 0.985 333.1 716.73)">波照間島</text>
</g>
</svg>
</figure>
</main>
</body>
</html>
